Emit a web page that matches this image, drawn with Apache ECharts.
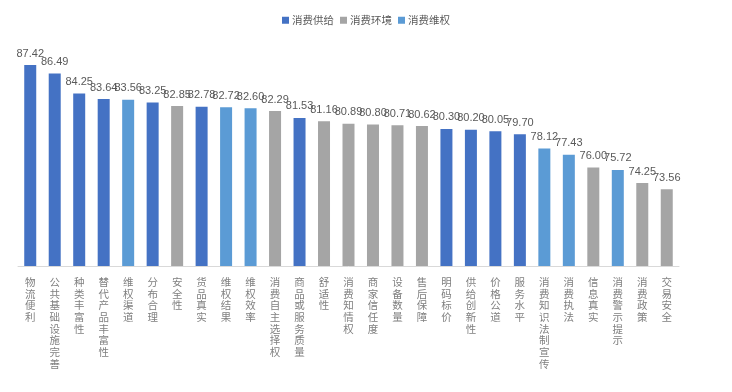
<!DOCTYPE html>
<html><head><meta charset="utf-8">
<script src="https://cdn.jsdelivr.net/npm/echarts@6/dist/echarts.min.js"></script>
<style>html,body{margin:0;padding:0;background:#fff}#c{width:732px;height:392px}</style>
</head><body><div id="c"></div>
<script>
const categories = ['物流便利','公共基础设施完善','种类丰富性','替代产品丰富性','维权渠道','分布合理','安全性','货品真实','维权结果','维权效率','消费自主选择权','商品或服务质量','舒适性','消费知情权','商家信任度','设备数量','售后保障','明码标价','供给创新性','价格公道','服务水平','消费知识法制宣传','消费执法','信息真实','消费警示提示','消费政策','交易安全'];
const values = [87.42,86.49,84.25,83.64,83.56,83.25,82.85,82.78,82.72,82.60,82.29,81.53,81.16,80.89,80.80,80.71,80.62,80.30,80.20,80.05,79.70,78.12,77.43,76.00,75.72,74.25,73.56];
const groups = ['供给','供给','供给','供给','维权','供给','环境','供给','维权','维权','环境','供给','环境','环境','环境','环境','环境','供给','供给','供给','供给','维权','维权','环境','维权','环境','环境'];
const seriesNames = ['消费供给','消费环境','消费维权'];
const seriesKeys = ['供给','环境','维权'];
const colors = ['#4472C4','#A5A5A5','#5B9BD5'];

const chart = echarts.init(document.getElementById('c'));
chart.setOption({
  animation: false,
  legend: {
    top: 10, left: 'center', itemWidth: 7, itemHeight: 7, itemGap: 6,
    icon: 'rect',
    textStyle: {fontSize: 10.5, color: '#595959', fontFamily: 'Noto Sans CJK SC', padding: [0,0,0,-2]},
    data: seriesNames
  },
  grid: {left: 18, right: 53, top: 42, bottom: 126, containLabel: false},
  xAxis: {
    type: 'category', data: categories,
    axisLine: {lineStyle: {color: '#D9D9D9'}},
    axisTick: {show: false},
    axisLabel: {
      interval: 0, margin: 10, fontSize: 10.5, lineHeight: 11.7, color: '#7F7F7F',
      fontFamily: 'Noto Sans CJK SC', verticalAlign: 'top',
      formatter: v => v.split('').join('\n')
    }
  },
  yAxis: {type: 'value', min: 65, max: 90, show: false, splitLine: {show: false}},
  series: seriesKeys.map((k, i) => ({
    name: seriesNames[i], type: 'bar', stack: 'all', barWidth: 12,
    itemStyle: {color: colors[i]},
    label: {show: true, position: 'top', distance: 6, fontSize: 11, color: '#595959',
      fontFamily: 'Liberation Sans', formatter: p => p.value.toFixed(2)},
    data: values.map((v, j) => groups[j] === k ? v : '-')
  }))
});
</script></body></html>
